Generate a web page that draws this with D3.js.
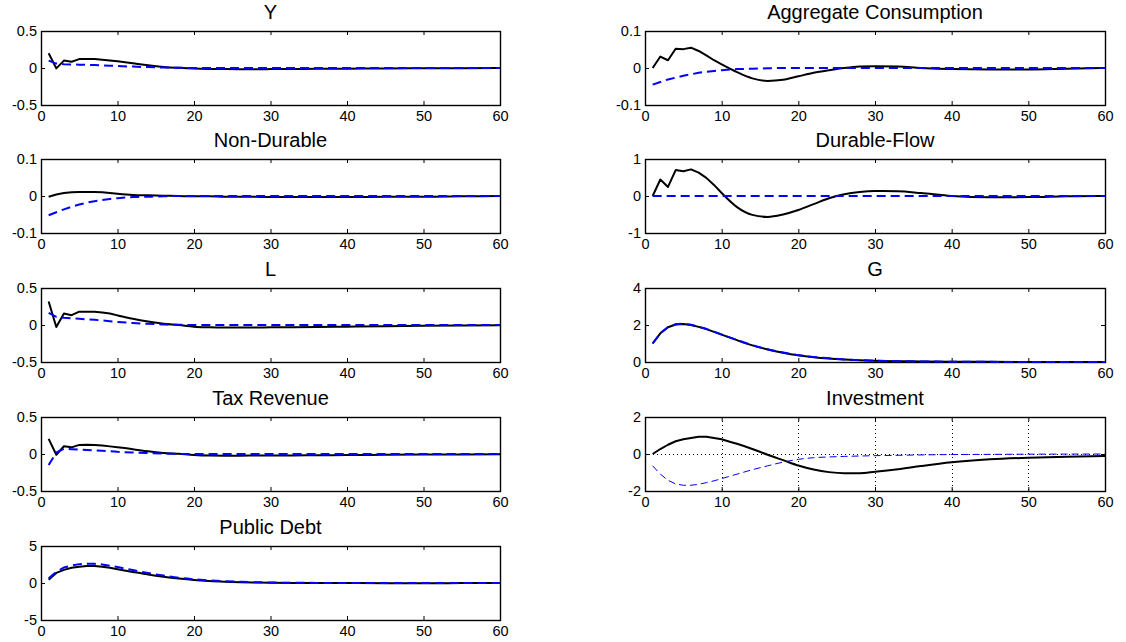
<!DOCTYPE html>
<html>
<head>
<meta charset="utf-8">
<script src="https://cdn.jsdelivr.net/npm/d3@7"></script>
<style>
  body { margin: 0; background: #fff; }
  svg { display: block; font-family: "Liberation Sans", Arial, sans-serif; }
</style>
</head>
<body>
<svg id="chart" width="1126" height="642"></svg>
<script>
var periods = [1,2,3,4,5,6,7,8,9,10,12,14,16,18,20,22,24,26,28,30,33,36,40,45,50,55,60];

var titles = ["Y", "Aggregate Consumption", "Non-Durable", "Durable-Flow", "L", "G", "Tax Revenue", "Investment", "Public Debt"];
var yDomains = [[-0.5,0.5],[-0.1,0.1],[-0.1,0.1],[-1,1],[-0.5,0.5],[0,4],[-0.5,0.5],[-2,2],[-5,5]];
var yTicks = [[-0.5,0,0.5],[-0.1,0,0.1],[-0.1,0,0.1],[-1,0,1],[-0.5,0,0.5],[0,2,4],[-0.5,0,0.5],[-2,0,2],[-5,0,5]];
var xTicks = [0,10,20,30,40,50,60];

// solid black lines
var ySolid    = [0.20,-0.005,0.10,0.085,0.12,0.12,0.12,0.113,0.102,0.09,0.063,0.036,0.015,0.002,-0.008,-0.013,-0.015,-0.016,-0.016,-0.015,-0.013,-0.011,-0.009,-0.006,-0.004,-0.002,-0.001];
var aggSolid  = [0,0.031,0.021,0.052,0.051,0.055,0.046,0.034,0.021,0.01,-0.011,-0.028,-0.035,-0.032,-0.0225,-0.013,-0.006,0,0.004,0.005,0.004,0,-0.003,-0.004,-0.004,-0.002,0];
var ndSolid   = [-0.002,0.004,0.008,0.010,0.011,0.011,0.011,0.010,0.008,0.006,0.003,0.002,0.001,0,-0.001,-0.001,-0.002,-0.002,-0.002,-0.003,-0.003,-0.003,-0.003,-0.002,-0.002,-0.001,0];
var durSolid  = [0,0.445,0.245,0.70,0.67,0.72,0.63,0.49,0.30,0.08,-0.30,-0.51,-0.565,-0.50,-0.38,-0.22,-0.06,0.05,0.11,0.135,0.13,0.08,0,-0.035,-0.03,-0.01,0];
var lSolid    = [0.317,-0.028,0.156,0.133,0.18,0.178,0.18,0.17,0.155,0.13,0.085,0.048,0.018,0,-0.022,-0.03,-0.034,-0.035,-0.034,-0.032,-0.03,-0.027,-0.022,-0.016,-0.011,-0.007,-0.004];
var gSolid    = [1.0,1.55,1.88,2.03,2.06,2.0,1.9,1.78,1.63,1.48,1.18,0.9,0.68,0.5,0.36,0.26,0.19,0.14,0.1,0.07,0.045,0.03,0.015,0.007,0.004,0.002,0.001];
var taxSolid  = [0.205,-0.01,0.105,0.09,0.123,0.125,0.123,0.115,0.103,0.09,0.065,0.036,0.015,0.003,-0.012,-0.02,-0.022,-0.022,-0.021,-0.02,-0.019,-0.017,-0.015,-0.011,-0.008,-0.006,-0.005];
var invSolid  = [0,0.27,0.5,0.69,0.8,0.87,0.93,0.93,0.87,0.8,0.55,0.27,-0.04,-0.33,-0.62,-0.84,-0.98,-1.04,-1.04,-0.96,-0.82,-0.65,-0.45,-0.29,-0.2,-0.145,-0.11];
var debtSolid = [0.45,1.36,1.77,2.05,2.2,2.3,2.3,2.2,2.05,1.86,1.5,1.15,0.85,0.6,0.4,0.27,0.18,0.11,0.07,0.04,0.01,0,-0.01,-0.02,-0.02,-0.015,-0.01];

// dashed blue lines
var yDash    = [0.10,0.06,0.052,0.048,0.045,0.042,0.039,0.035,0.031,0.027,0.019,0.012,0.007,0.003,0.001,0,0,0,0,0,0,0,0,0,0,0,0];
var aggDash  = [-0.045,-0.038,-0.031,-0.026,-0.021,-0.017,-0.013,-0.010,-0.008,-0.006,-0.003,-0.002,-0.001,0,0,0,0,0,0,0,0,0,0,0,0,0,0];
var ndDash   = [-0.052,-0.044,-0.036,-0.029,-0.023,-0.018,-0.014,-0.011,-0.008,-0.006,-0.003,-0.002,-0.001,0,0,0,0,0,0,0,0,0,0,0,0,0,0];
var durDash  = [0,0,0,0,0,0,0,0,0,0,0,0,0,0,0,0,0,0,0,0,0,0,0,0,0,0,0];
var lDash    = [0.165,0.11,0.097,0.09,0.083,0.077,0.07,0.062,0.052,0.042,0.027,0.016,0.008,0.003,0,0,0,0,0,0,0,0,0,0,0,0,0];
var gDash    = [1.0,1.56,1.89,2.04,2.07,2.01,1.91,1.79,1.64,1.49,1.19,0.91,0.69,0.51,0.37,0.27,0.2,0.14,0.1,0.07,0.045,0.03,0.015,0.007,0.004,0.002,0.001];
var taxDash  = [-0.15,0.02,0.07,0.065,0.06,0.055,0.05,0.045,0.038,0.03,0.02,0.012,0.006,0.002,0,0,0,0,0,0,0,0,0,0,0,0,0];
var invDash  = [-0.64,-1.09,-1.42,-1.62,-1.69,-1.69,-1.64,-1.55,-1.45,-1.33,-1.09,-0.85,-0.64,-0.44,-0.29,-0.2,-0.16,-0.13,-0.11,-0.09,-0.07,-0.05,-0.03,-0.02,-0.01,-0.005,0];
var debtDash = [0.65,1.5,2.1,2.35,2.55,2.6,2.6,2.5,2.33,2.15,1.75,1.35,1.0,0.7,0.5,0.35,0.25,0.17,0.11,0.07,0.035,0.015,0,0,0,0,0];

var solidSeries = [ySolid, aggSolid, ndSolid, durSolid, lSolid, gSolid, taxSolid, invSolid, debtSolid];
var dashSeries  = [yDash, aggDash, ndDash, durDash, lDash, gDash, taxDash, invDash, debtDash];

var svg = d3.select("#chart");

// column x-extents, row tops, panel height
var cols = [[41, 500], [645, 1105]];
var rowTop0 = 30.5, rowStep = 128.8, panelH = 74;
var splitAt = 9; // index of period 10: straight segments before, smooth after

function fmt(v) { return String(v); }

titles.forEach(function(title, i) {
  var col = i % 2, row = Math.floor(i / 2);
  var top = Math.round(rowTop0 + rowStep * row), bottom = top + panelH;
  var x = d3.scaleLinear().domain([0, 60]).range(cols[col]);
  var y = d3.scaleLinear().domain(yDomains[i]).range([bottom, top]);
  var g = svg.append("g");
  var isInv = title === "Investment";

  // grid on for the Investment panel
  if (isInv) {
    g.selectAll(".gx").data(xTicks.slice(1, -1)).enter().append("line")
      .attr("x1", function(d) { return Math.round(x(d)) + 0.5; })
      .attr("x2", function(d) { return Math.round(x(d)) + 0.5; })
      .attr("y1", top).attr("y2", bottom)
      .attr("stroke", "#000").attr("stroke-width", 1).attr("stroke-dasharray", "1,3");
    g.append("line")
      .attr("x1", x(0)).attr("x2", x(60))
      .attr("y1", Math.round(y(0)) + 0.5).attr("y2", Math.round(y(0)) + 0.5)
      .attr("stroke", "#000").attr("stroke-width", 1).attr("stroke-dasharray", "1,3");
  }

  // x axis bottom + inward ticks top & bottom
  g.append("g")
    .attr("transform", "translate(0," + bottom + ")")
    .call(d3.axisBottom(x).tickValues(xTicks).tickFormat(fmt).tickSizeInner(-4).tickSizeOuter(0).tickPadding(6))
    .call(function(a) {
      a.select(".domain").remove();
      a.selectAll("text").attr("font-size", 14.5).attr("fill", "#000").attr("font-family", "Liberation Sans, Arial, sans-serif");
    });
  g.append("g")
    .attr("transform", "translate(0," + top + ")")
    .call(d3.axisTop(x).tickValues(xTicks).tickFormat("").tickSizeInner(-4).tickSizeOuter(0))
    .call(function(a) { a.select(".domain").remove(); });

  // y axis left + inward ticks both sides
  g.append("g")
    .attr("transform", "translate(" + cols[col][0] + ",0)")
    .call(d3.axisLeft(y).tickValues(yTicks[i]).tickFormat(fmt).tickSizeInner(-4).tickSizeOuter(0).tickPadding(4))
    .call(function(a) {
      a.select(".domain").remove();
      a.selectAll("text").attr("font-size", 14.5).attr("fill", "#000").attr("font-family", "Liberation Sans, Arial, sans-serif");
    });
  g.append("g")
    .attr("transform", "translate(" + cols[col][1] + ",0)")
    .call(d3.axisRight(y).tickValues(yTicks[i]).tickFormat("").tickSizeInner(-4).tickSizeOuter(0))
    .call(function(a) { a.select(".domain").remove(); });

  // box
  g.append("rect")
    .attr("x", cols[col][0] + 0.5).attr("y", top + 0.5)
    .attr("width", cols[col][1] - cols[col][0]).attr("height", panelH)
    .attr("fill", "none").attr("stroke", "#000").attr("stroke-width", 1.4);

  var early = d3.line()
    .x(function(d) { return x(d[0]); })
    .y(function(d) { return y(d[1]); });
  var late = d3.line()
    .x(function(d) { return x(d[0]); })
    .y(function(d) { return y(d[1]); })
    .curve(d3.curveMonotoneX);

  function pathFor(vals) {
    var pts = vals.map(function(v, k) { return [periods[k], v]; });
    var a = early(pts.slice(0, splitAt + 1));
    var b = late(pts.slice(splitAt));
    return a + "L" + b.slice(1);
  }

  g.append("path")
    .attr("d", pathFor(solidSeries[i]))
    .attr("fill", "none").attr("stroke", "#000").attr("stroke-width", 2)
    .attr("stroke-linejoin", "round");

  g.append("path")
    .attr("d", pathFor(dashSeries[i]))
    .attr("fill", "none").attr("stroke", "#0000ff")
    .attr("stroke-width", isInv ? 1 : 2)
    .attr("stroke-dasharray", isInv ? "7,4" : "9,5");

  // title
  svg.append("text")
    .attr("x", (cols[col][0] + cols[col][1]) / 2)
    .attr("y", top - 12)
    .attr("text-anchor", "middle")
    .attr("font-size", 20)
    .attr("fill", "#000")
    .text(title);
});
</script>
</body>
</html>
